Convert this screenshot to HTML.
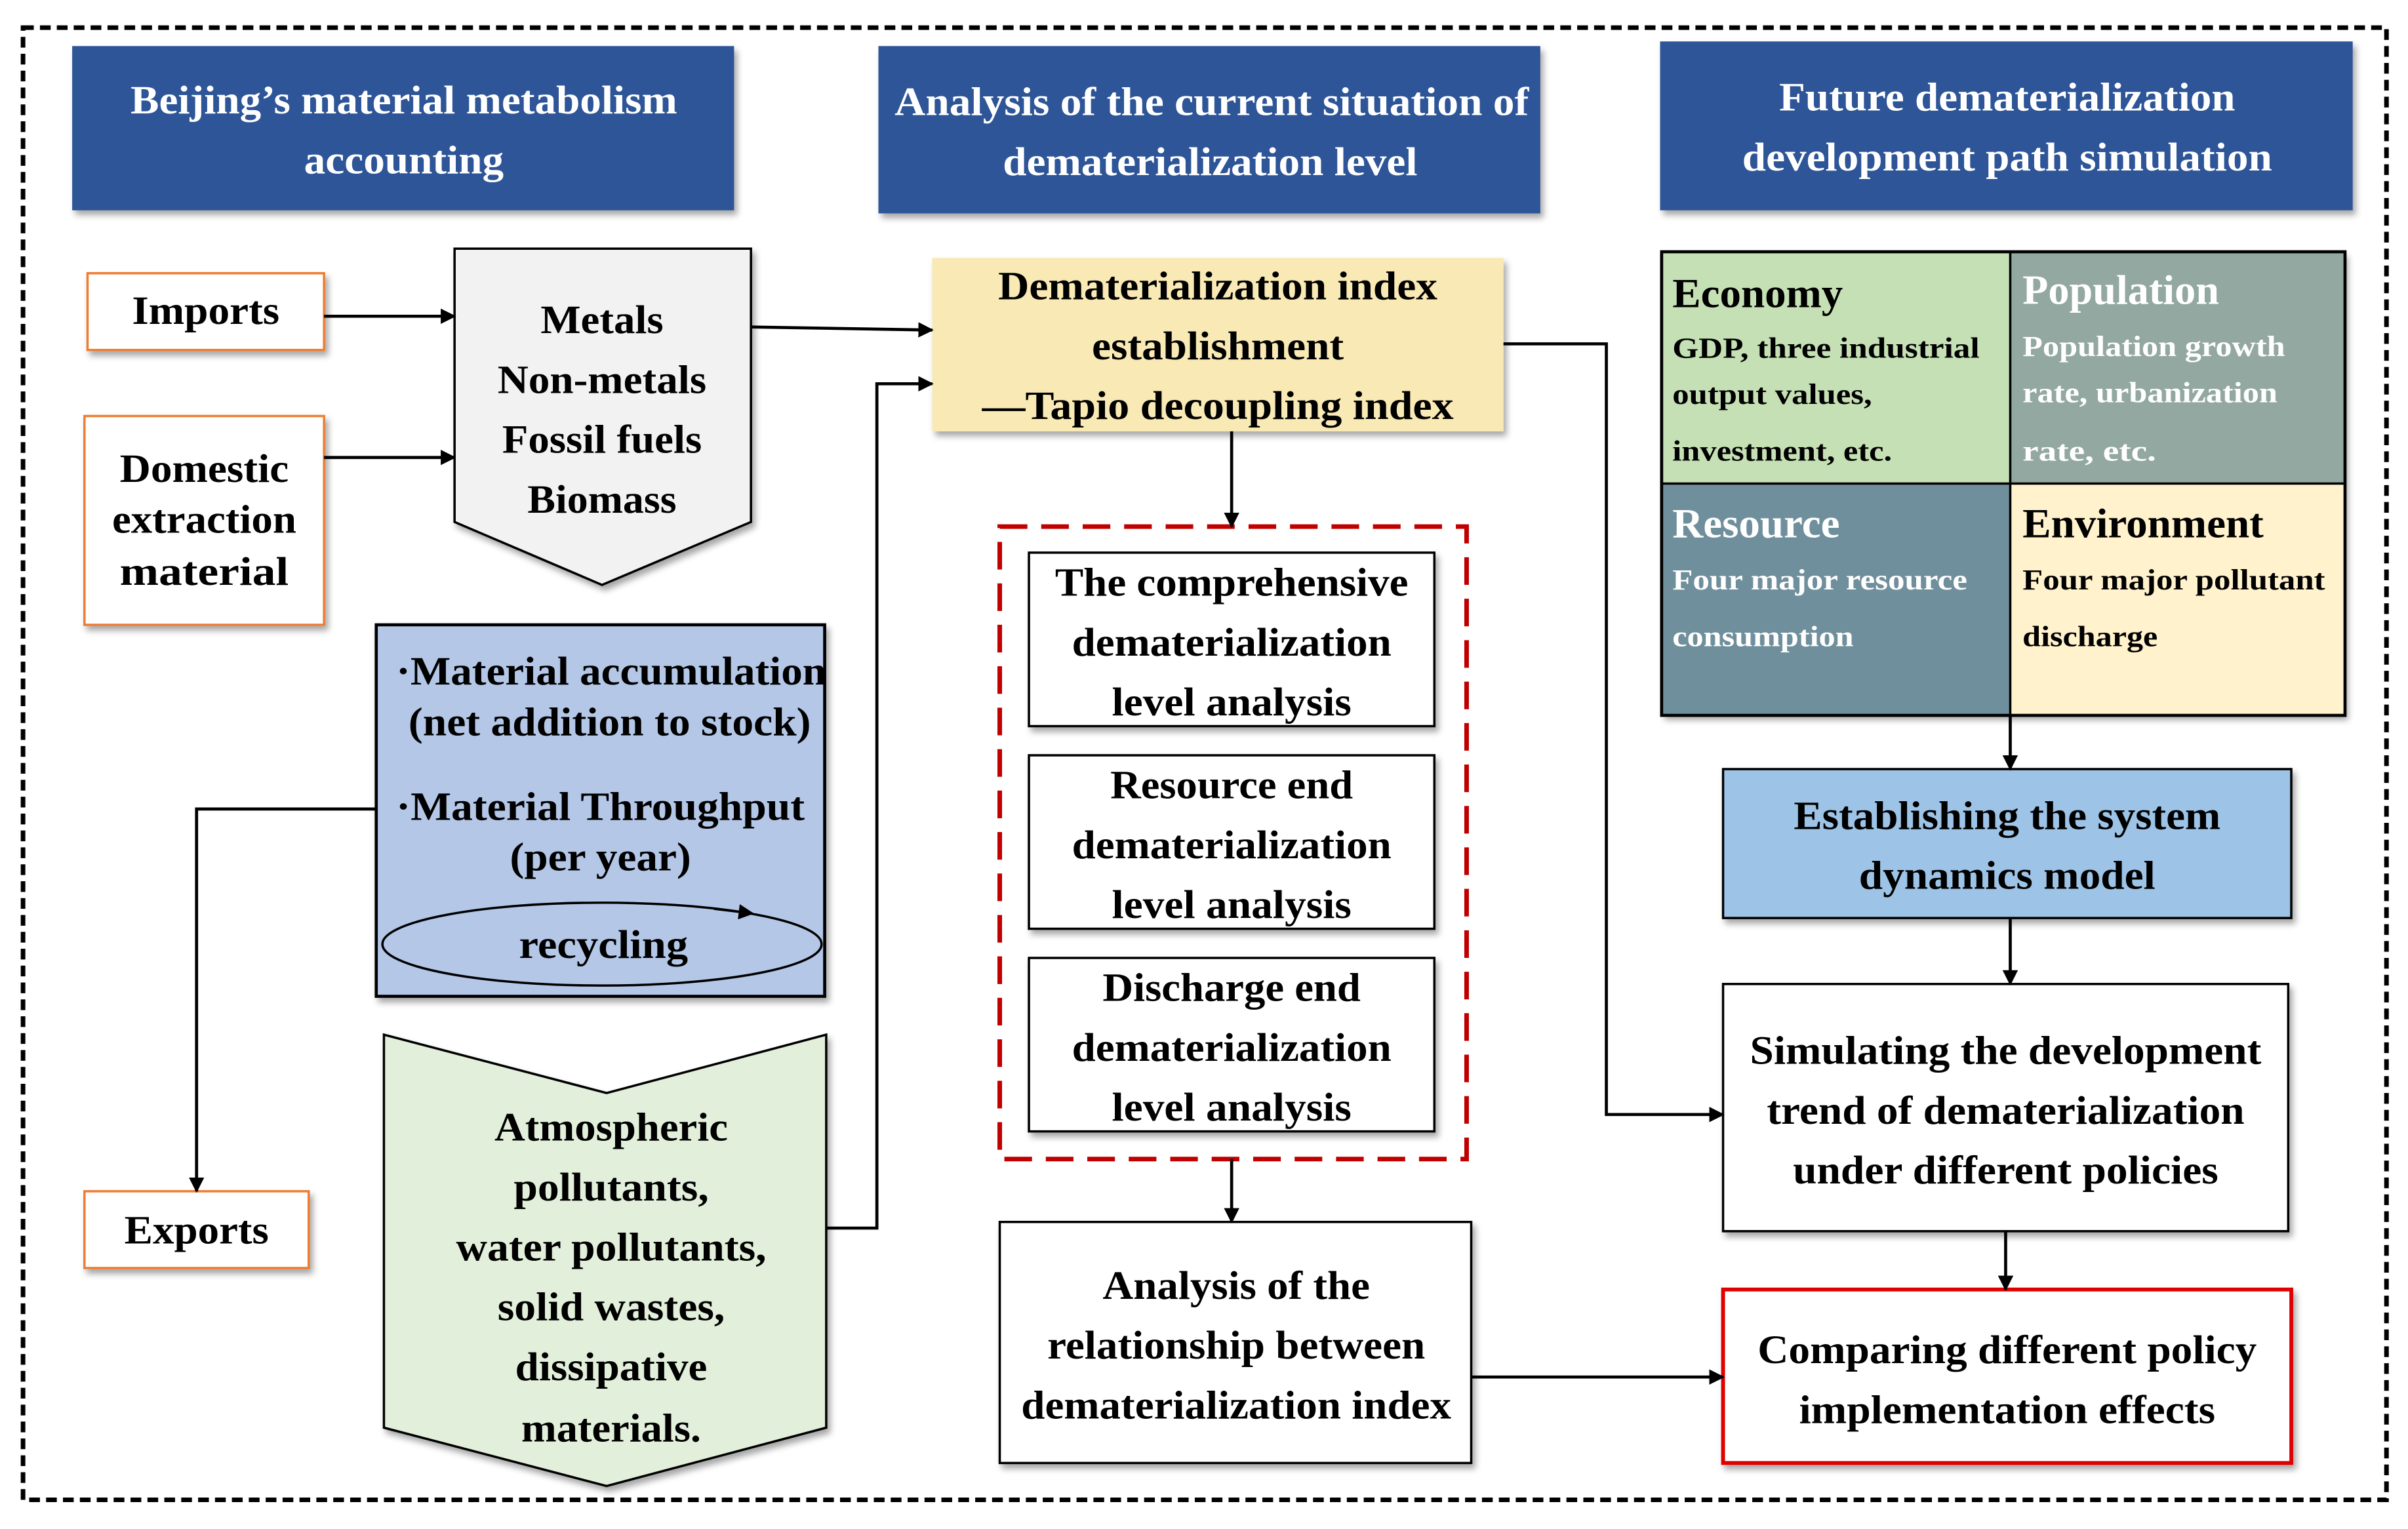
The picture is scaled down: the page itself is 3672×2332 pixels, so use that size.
<!DOCTYPE html>
<html><head><meta charset="utf-8"><style>
html,body{margin:0;padding:0;background:#fff;}
svg{display:block;}
text{font-family:"Liberation Serif",serif;font-weight:bold;}
</style></head><body>
<svg width="3672" height="2332" viewBox="0 0 1568 996" preserveAspectRatio="none" xmlns="http://www.w3.org/2000/svg">
<defs>
<marker id="a" markerWidth="10" markerHeight="10" refX="9" refY="5" orient="auto" markerUnits="userSpaceOnUse"><path d="M0,0 L10,5 L0,10 z" fill="#000"/></marker>
<filter id="sh" x="-5%" y="-5%" width="115%" height="120%"><feDropShadow dx="2" dy="3" stdDeviation="2" flood-color="#000" flood-opacity="0.35"/></filter>
</defs>
<rect x="0" y="0" width="1568" height="996" fill="#fff"/>
<rect x="15" y="18" width="1539" height="959" fill="none" stroke="#000" stroke-width="3" stroke-dasharray="7,4"/>

<!-- headers -->
<g filter="url(#sh)">
<rect x="47" y="30" width="431" height="107" fill="#2f5597"/>
<rect x="572" y="30" width="431" height="109" fill="#2f5597"/>
<rect x="1081" y="27" width="451" height="110" fill="#2f5597"/>
</g>
<g fill="#fff" font-size="26" text-anchor="middle" lengthAdjust="spacingAndGlyphs">
<text x="263" y="74" textLength="356" lengthAdjust="spacingAndGlyphs">Beijing’s material metabolism</text>
<text x="263" y="113" textLength="130" lengthAdjust="spacingAndGlyphs">accounting</text>
<text x="789" y="75" textLength="413" lengthAdjust="spacingAndGlyphs">Analysis of the current situation of</text>
<text x="788" y="114" textLength="270" lengthAdjust="spacingAndGlyphs">dematerialization level</text>
<text x="1307" y="72" textLength="297" lengthAdjust="spacingAndGlyphs">Future dematerialization</text>
<text x="1307" y="111" textLength="345" lengthAdjust="spacingAndGlyphs">development path simulation</text>
</g>

<!-- left column shapes -->
<g filter="url(#sh)">
<rect x="57" y="178" width="154" height="50" fill="#fff" stroke="#ed7d31" stroke-width="1.5"/>
<rect x="55" y="271" width="156" height="136" fill="#fff" stroke="#ed7d31" stroke-width="1.5"/>
<polygon points="296,162 489,162 489,340 392,381 296,340" fill="#f2f2f2" stroke="#000" stroke-width="1.5"/>
<rect x="245" y="407" width="292" height="242" fill="#b4c7e7" stroke="#000" stroke-width="2"/>
<polygon points="250,674 395,712 538,674 538,930 395,968 250,930" fill="#e2efda" stroke="#000" stroke-width="1.5"/>
<rect x="55" y="776" width="146" height="50" fill="#fff" stroke="#ed7d31" stroke-width="1.5"/>
</g>
<ellipse cx="392" cy="615" rx="143" ry="27" fill="none" stroke="#000" stroke-width="1.5"/>
<line x1="465" y1="592" x2="490" y2="595" stroke="#000" stroke-width="1.5" marker-end="url(#a)"/>

<g fill="#000" font-size="26" text-anchor="middle">
<text x="134" y="211" textLength="96" lengthAdjust="spacingAndGlyphs">Imports</text>
<text x="133" y="314" textLength="110" lengthAdjust="spacingAndGlyphs">Domestic</text>
<text x="133" y="347" textLength="120" lengthAdjust="spacingAndGlyphs">extraction</text>
<text x="133" y="381" textLength="110" lengthAdjust="spacingAndGlyphs">material</text>
<text x="392" y="217" textLength="80" lengthAdjust="spacingAndGlyphs">Metals</text>
<text x="392" y="256" textLength="136" lengthAdjust="spacingAndGlyphs">Non-metals</text>
<text x="392" y="295" textLength="130" lengthAdjust="spacingAndGlyphs">Fossil fuels</text>
<text x="392" y="334" textLength="97" lengthAdjust="spacingAndGlyphs">Biomass</text>
<text x="398" y="446" textLength="280" lengthAdjust="spacingAndGlyphs">·Material accumulation</text>
<text x="397" y="479" textLength="262" lengthAdjust="spacingAndGlyphs">(net addition to stock)</text>
<text x="391" y="534" textLength="266" lengthAdjust="spacingAndGlyphs">·Material Throughput</text>
<text x="391" y="567" textLength="118" lengthAdjust="spacingAndGlyphs">(per year)</text>
<text x="393" y="624" textLength="110" lengthAdjust="spacingAndGlyphs">recycling</text>
<text x="398" y="743" textLength="152" lengthAdjust="spacingAndGlyphs">Atmospheric</text>
<text x="398" y="782" textLength="127" lengthAdjust="spacingAndGlyphs">pollutants,</text>
<text x="398" y="821" textLength="202" lengthAdjust="spacingAndGlyphs">water pollutants,</text>
<text x="398" y="860" textLength="148" lengthAdjust="spacingAndGlyphs">solid wastes,</text>
<text x="398" y="899" textLength="125" lengthAdjust="spacingAndGlyphs">dissipative</text>
<text x="398" y="939" textLength="117" lengthAdjust="spacingAndGlyphs">materials.</text>
<text x="128" y="810" textLength="94" lengthAdjust="spacingAndGlyphs">Exports</text>
</g>

<!-- middle column -->
<g filter="url(#sh)">
<rect x="607" y="168" width="372" height="113" fill="#f8e9b5"/>
<rect x="670" y="360" width="264" height="113" fill="#fff" stroke="#000" stroke-width="1.5"/>
<rect x="670" y="492" width="264" height="113" fill="#fff" stroke="#000" stroke-width="1.5"/>
<rect x="670" y="624" width="264" height="113" fill="#fff" stroke="#000" stroke-width="1.5"/>
<rect x="651" y="796" width="307" height="157" fill="#fff" stroke="#000" stroke-width="1.5"/>
</g>
<rect x="651" y="343" width="304" height="412" fill="none" stroke="#c00000" stroke-width="3" stroke-dasharray="18,9"/>
<g fill="#000" font-size="26" text-anchor="middle">
<text x="793" y="195" textLength="286" lengthAdjust="spacingAndGlyphs">Dematerialization index</text>
<text x="793" y="234" textLength="164" lengthAdjust="spacingAndGlyphs">establishment</text>
<text x="793" y="273" textLength="307" lengthAdjust="spacingAndGlyphs">—Tapio decoupling index</text>
<text x="802" y="388" textLength="230" lengthAdjust="spacingAndGlyphs">The comprehensive</text>
<text x="802" y="427" textLength="208" lengthAdjust="spacingAndGlyphs">dematerialization</text>
<text x="802" y="466" textLength="156" lengthAdjust="spacingAndGlyphs">level analysis</text>
<text x="802" y="520" textLength="158" lengthAdjust="spacingAndGlyphs">Resource end</text>
<text x="802" y="559" textLength="208" lengthAdjust="spacingAndGlyphs">dematerialization</text>
<text x="802" y="598" textLength="156" lengthAdjust="spacingAndGlyphs">level analysis</text>
<text x="802" y="652" textLength="168" lengthAdjust="spacingAndGlyphs">Discharge end</text>
<text x="802" y="691" textLength="208" lengthAdjust="spacingAndGlyphs">dematerialization</text>
<text x="802" y="730" textLength="156" lengthAdjust="spacingAndGlyphs">level analysis</text>
<text x="805" y="846" textLength="174" lengthAdjust="spacingAndGlyphs">Analysis of the</text>
<text x="805" y="885" textLength="246" lengthAdjust="spacingAndGlyphs">relationship between</text>
<text x="805" y="924" textLength="280" lengthAdjust="spacingAndGlyphs">dematerialization index</text>
</g>

<!-- right column -->
<g filter="url(#sh)">
<rect x="1082" y="164" width="227" height="151" fill="#c5e0b4"/>
<rect x="1309" y="164" width="218" height="151" fill="#93a8a0"/>
<rect x="1082" y="315" width="227" height="151" fill="#6f8f9c"/>
<rect x="1309" y="315" width="218" height="151" fill="#fff2cc"/>
</g>
<rect x="1082" y="164" width="445" height="302" fill="none" stroke="#000" stroke-width="2"/>
<line x1="1309" y1="164" x2="1309" y2="466" stroke="#000" stroke-width="1.5"/>
<line x1="1082" y1="315" x2="1527" y2="315" stroke="#000" stroke-width="1.5"/>
<g font-size="19">
<text x="1089" y="200" font-size="27" textLength="111" lengthAdjust="spacingAndGlyphs">Economy</text>
<text x="1089" y="233" textLength="200" lengthAdjust="spacingAndGlyphs">GDP, three industrial</text>
<text x="1089" y="263" textLength="130" lengthAdjust="spacingAndGlyphs">output values,</text>
<text x="1089" y="300" textLength="143" lengthAdjust="spacingAndGlyphs">investment, etc.</text>
<g fill="#fff">
<text x="1317" y="198" font-size="27" textLength="128" lengthAdjust="spacingAndGlyphs">Population</text>
<text x="1317" y="232" textLength="171" lengthAdjust="spacingAndGlyphs">Population growth</text>
<text x="1317" y="262" textLength="166" lengthAdjust="spacingAndGlyphs">rate, urbanization</text>
<text x="1317" y="300" textLength="87" lengthAdjust="spacingAndGlyphs">rate, etc.</text>
<text x="1089" y="350" font-size="27" textLength="109" lengthAdjust="spacingAndGlyphs">Resource</text>
<text x="1089" y="384" textLength="192" lengthAdjust="spacingAndGlyphs">Four major resource</text>
<text x="1089" y="421" textLength="118" lengthAdjust="spacingAndGlyphs">consumption</text>
</g>
<text x="1317" y="350" font-size="27" textLength="157" lengthAdjust="spacingAndGlyphs">Environment</text>
<text x="1317" y="384" textLength="197" lengthAdjust="spacingAndGlyphs">Four major pollutant</text>
<text x="1317" y="421" textLength="88" lengthAdjust="spacingAndGlyphs">discharge</text>
</g>

<g filter="url(#sh)">
<rect x="1122" y="501" width="370" height="97" fill="#9dc3e6" stroke="#000" stroke-width="1.5"/>
<rect x="1122" y="641" width="368" height="161" fill="#fff" stroke="#000" stroke-width="1.5"/>
<rect x="1122" y="840" width="370" height="113" fill="#fff" stroke="#e00000" stroke-width="2.5"/>
</g>
<g fill="#000" font-size="26" text-anchor="middle">
<text x="1307" y="540" textLength="278" lengthAdjust="spacingAndGlyphs">Establishing the system</text>
<text x="1307" y="579" textLength="193" lengthAdjust="spacingAndGlyphs">dynamics model</text>
<text x="1306" y="693" textLength="333" lengthAdjust="spacingAndGlyphs">Simulating the development</text>
<text x="1306" y="732" textLength="311" lengthAdjust="spacingAndGlyphs">trend of dematerialization</text>
<text x="1306" y="771" textLength="277" lengthAdjust="spacingAndGlyphs">under different policies</text>
<text x="1307" y="888" textLength="325" lengthAdjust="spacingAndGlyphs">Comparing different policy</text>
<text x="1307" y="927" textLength="271" lengthAdjust="spacingAndGlyphs">implementation effects</text>
</g>

<!-- connectors -->
<g fill="none" stroke="#000" stroke-width="2" marker-end="url(#a)">
<line x1="211" y1="206" x2="296" y2="206"/>
<line x1="211" y1="298" x2="296" y2="298"/>
<line x1="489" y1="213" x2="607" y2="215"/>
<polyline points="538,800 571,800 571,250 607,250"/>
<polyline points="245,527 128,527 128,776"/>
<line x1="802" y1="281" x2="802" y2="343"/>
<line x1="802" y1="755" x2="802" y2="796"/>
<polyline points="979,224 1046,224 1046,726 1122,726"/>
<line x1="958" y1="897" x2="1122" y2="897"/>
<line x1="1309" y1="466" x2="1309" y2="501"/>
<line x1="1309" y1="598" x2="1309" y2="641"/>
<line x1="1306" y1="802" x2="1306" y2="840"/>
</g>
</svg>
</body></html>
